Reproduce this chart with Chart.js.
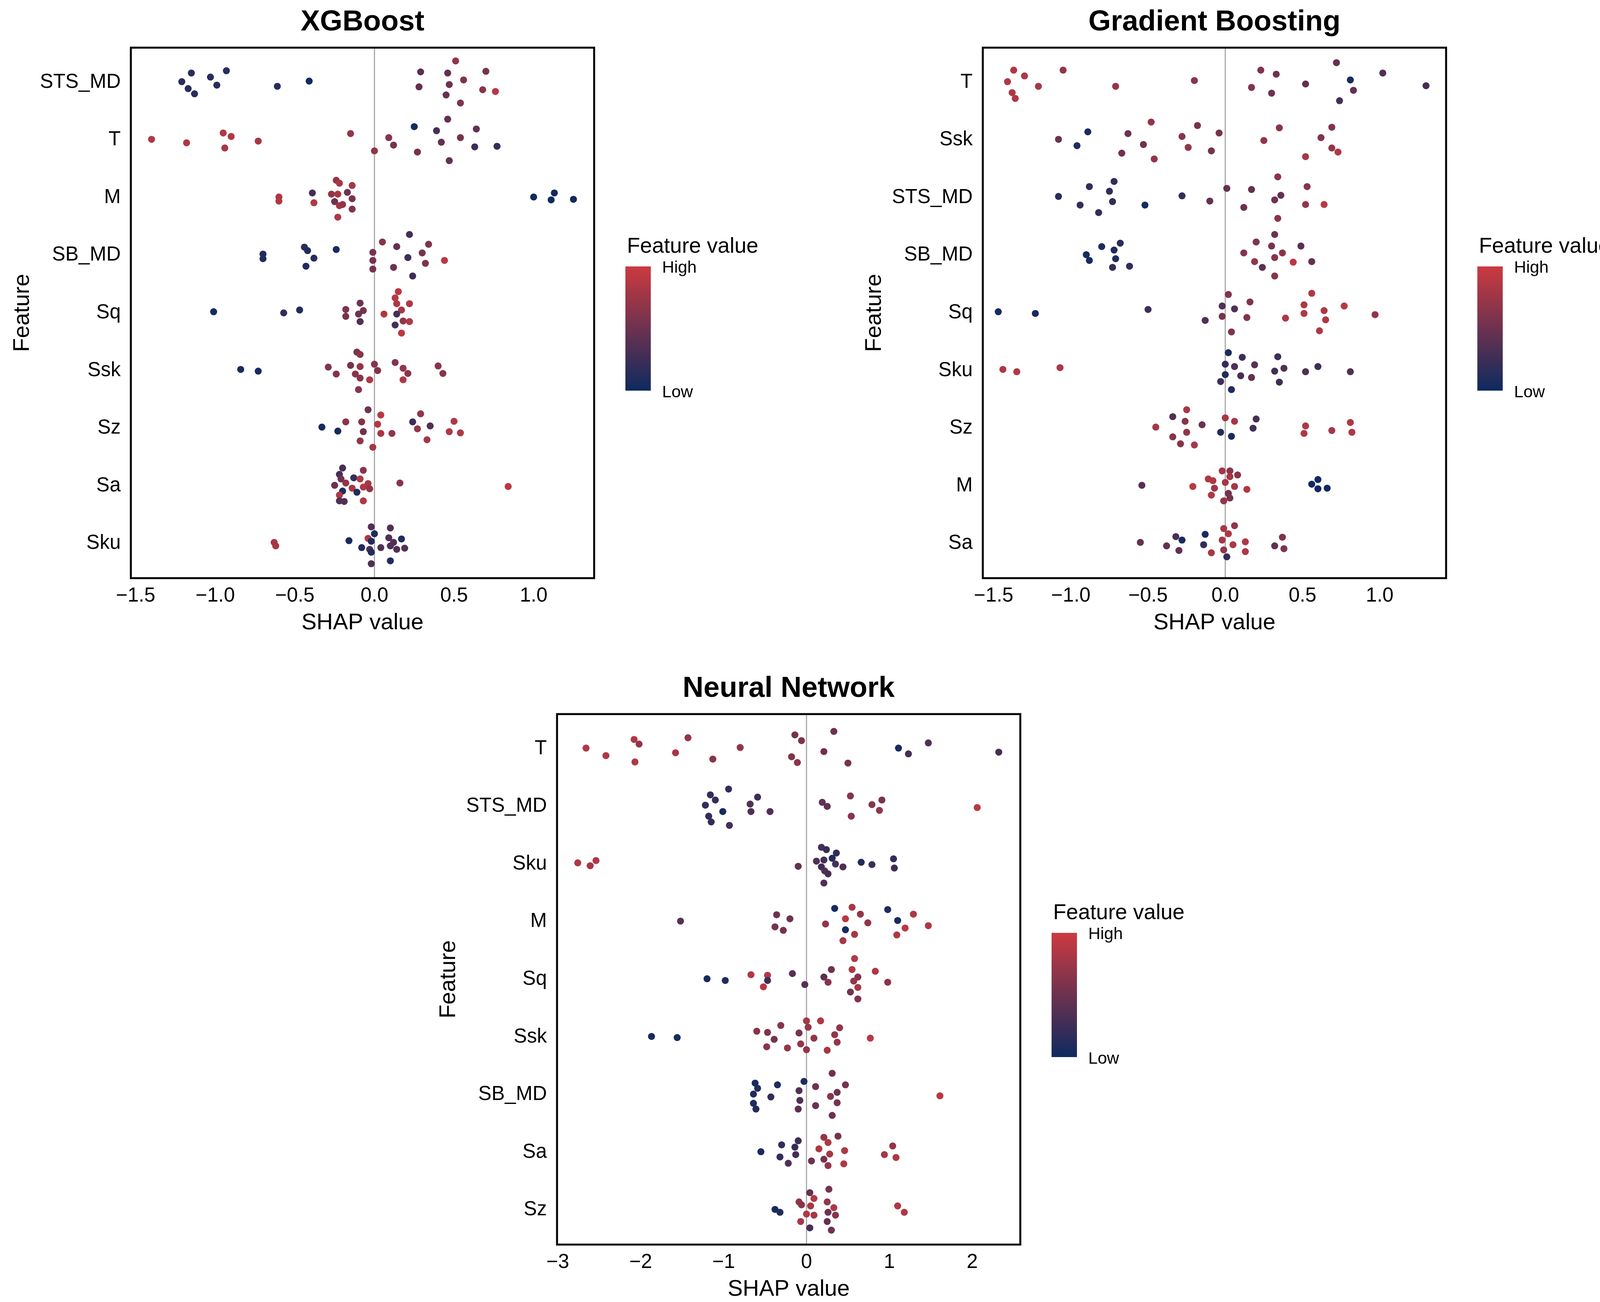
<!DOCTYPE html>
<html>
<head>
<meta charset="utf-8">
<script src="https://cdn.jsdelivr.net/npm/chart.js@4.4.0/dist/chart.umd.min.js"></script>
<style>
  html, body { margin: 0; padding: 0; background: #fff; width: 4141px; height: 3333px; overflow: hidden; }
  .panel { position: absolute; }
</style>
</head>
<body>
<div class="panel" id="wrap1"><canvas id="c1" width="1951" height="1650"></canvas></div>
<div class="panel" id="wrap2"><canvas id="c2" width="1951" height="1650"></canvas></div>
<div class="panel" id="wrap3"><canvas id="c3" width="1951" height="1650"></canvas></div>
<script>
// ---- data (SHAP value, vertical jitter in category units, feature value 0..1) ----
// one row per feature, top to bottom

const XGB_FEATURES = ["STS_MD", "T", "M", "SB_MD", "Sq", "Ssk", "Sz", "Sa", "Sku"];
const XGB_SHAP = [
  [-1.21,-1.15,-1.17,-1.13,-1.03,-0.99,-0.93,-0.61,-0.41,0.51,0.29,0.46,0.70,0.28,0.47,0.56,0.68,0.76,0.45,0.54],
  [-1.40,-1.18,-0.95,-0.90,-0.94,-0.73,-0.15,0.00,0.09,0.12,0.25,0.27,0.39,0.42,0.46,0.54,0.47,0.64,0.63,0.77],
  [-0.60,-0.60,-0.39,-0.38,-0.27,-0.24,-0.22,-0.14,-0.23,-0.17,-0.25,-0.14,-0.22,-0.20,-0.14,-0.23,1.00,1.13,1.11,1.25],
  [-0.70,-0.70,-0.44,-0.42,-0.38,-0.43,-0.24,-0.01,-0.01,-0.01,0.05,0.14,0.22,0.21,0.12,0.24,0.30,0.34,0.32,0.44],
  [-1.01,-0.57,-0.47,-0.18,-0.18,-0.09,-0.07,-0.10,-0.09,0.06,0.15,0.13,0.14,0.22,0.17,0.14,0.18,0.22,0.13,0.17],
  [-0.84,-0.73,-0.29,-0.24,-0.15,-0.11,-0.09,-0.12,-0.09,-0.09,-0.10,-0.03,0.00,0.02,0.13,0.18,0.21,0.18,0.40,0.43],
  [-0.33,-0.23,-0.18,-0.04,-0.08,-0.07,-0.09,-0.01,0.02,0.04,0.04,0.11,0.24,0.29,0.27,0.35,0.33,0.50,0.47,0.54],
  [-0.20,-0.22,-0.21,-0.13,-0.07,-0.09,-0.25,-0.18,-0.14,-0.04,-0.07,-0.03,-0.20,-0.11,-0.22,-0.22,-0.19,-0.07,0.16,0.84],
  [-0.63,-0.62,-0.16,-0.02,0.00,-0.04,-0.02,-0.08,-0.03,-0.02,-0.02,0.04,0.10,0.09,0.17,0.12,0.10,0.14,0.19,0.10]
];
const XGB_JITTER = [
  [0.01,0.16,-0.11,-0.20,0.09,-0.05,0.20,-0.07,0.02,0.37,0.18,0.16,0.19,-0.08,-0.04,0.04,-0.13,-0.16,-0.22,-0.36],
  [0.01,-0.05,0.12,0.06,-0.14,-0.02,0.11,-0.19,0.04,-0.09,0.23,-0.21,0.16,-0.04,0.36,0.04,-0.36,0.19,-0.12,-0.11],
  [0.01,-0.06,0.08,-0.09,0.06,0.30,0.25,0.21,0.06,0.09,-0.07,-0.02,-0.14,-0.12,-0.20,-0.34,0.01,0.08,-0.04,-0.03],
  [0.02,-0.06,0.14,0.08,-0.05,-0.19,0.10,0.05,-0.09,-0.24,0.23,0.15,0.36,-0.04,-0.21,-0.36,0.04,0.19,-0.14,-0.09],
  [0.02,0.00,0.05,0.06,-0.06,0.17,0.04,-0.02,-0.15,-0.02,0.37,0.26,0.16,0.16,0.05,-0.02,-0.14,-0.15,-0.21,-0.35],
  [0.02,-0.01,0.06,-0.06,0.09,0.32,0.28,-0.06,0.07,-0.13,-0.33,-0.16,0.11,0.00,0.14,0.04,-0.05,-0.16,0.08,-0.05],
  [0.02,-0.05,0.11,0.32,0.11,-0.06,-0.22,-0.33,0.07,0.23,-0.09,-0.09,0.11,0.25,-0.01,0.04,-0.20,0.12,-0.06,-0.08],
  [0.31,0.20,0.12,0.14,0.27,0.12,0.01,0.05,-0.04,0.04,-0.02,-0.05,-0.09,-0.11,-0.16,-0.26,-0.27,-0.26,0.05,-0.01],
  [0.02,-0.04,0.05,0.29,0.17,0.09,0.04,-0.07,-0.10,-0.15,-0.35,-0.07,0.27,0.10,0.08,0.02,-0.04,-0.10,-0.08,-0.30]
];
const XGB_FVAL = [
  [0.15,0.15,0.15,0.15,0.15,0.15,0.15,0.15,0.02,0.7,0.4,0.45,0.55,0.45,0.5,0.6,0.65,0.9,0.45,0.6],
  [0.85,0.85,0.85,0.85,0.8,0.8,0.7,0.7,0.65,0.55,0.05,0.55,0.3,0.45,0.45,0.55,0.45,0.45,0.25,0.2],
  [0.85,0.85,0.3,0.85,0.7,0.7,0.8,0.8,0.8,0.5,0.5,0.55,0.8,0.7,0.6,0.85,0.03,0.03,0.03,0.03],
  [0.1,0.1,0.15,0.1,0.15,0.1,0.05,0.55,0.55,0.55,0.65,0.45,0.3,0.25,0.5,0.25,0.55,0.6,0.6,0.9],
  [0.05,0.2,0.1,0.6,0.55,0.5,0.55,0.5,0.35,0.85,0.9,0.9,0.85,0.85,0.8,0.3,0.7,0.85,0.3,0.9],
  [0.05,0.05,0.6,0.6,0.55,0.55,0.65,0.65,0.7,0.65,0.65,0.85,0.65,0.6,0.6,0.7,0.65,0.85,0.65,0.65],
  [0.05,0.05,0.65,0.5,0.6,0.5,0.7,0.8,0.85,0.9,0.8,0.7,0.25,0.7,0.7,0.35,0.8,0.85,0.85,0.85],
  [0.3,0.3,0.5,0.2,0.65,0.85,0.5,0.7,0.8,0.8,0.85,0.7,0.1,0.1,0.85,0.35,0.35,0.85,0.65,0.9],
  [0.8,0.8,0.05,0.35,0.1,0.85,0.1,0.1,0.35,0.1,0.35,0.35,0.35,0.35,0.1,0.35,0.35,0.35,0.35,0.1]
];

const GB_FEATURES = ["T", "Ssk", "STS_MD", "SB_MD", "Sq", "Sku", "Sz", "M", "Sa"];
const GB_SHAP = [
  [-1.37,-1.30,-1.41,-1.38,-1.36,-1.21,-1.05,-0.71,-0.20,0.23,0.33,0.17,0.30,0.52,0.72,0.81,0.83,0.74,1.02,1.30],
  [-1.08,-0.89,-0.96,-0.63,-0.48,-0.53,-0.67,-0.46,-0.28,-0.24,-0.18,-0.09,-0.04,0.25,0.35,0.52,0.62,0.69,0.69,0.73],
  [-1.08,-0.94,-0.88,-0.82,-0.75,-0.72,-0.73,-0.52,-0.28,-0.10,0.01,0.12,0.17,0.32,0.36,0.34,0.34,0.53,0.52,0.64],
  [-0.90,-0.88,-0.80,-0.72,-0.68,-0.71,-0.73,-0.62,0.12,0.20,0.19,0.24,0.30,0.32,0.32,0.37,0.32,0.44,0.49,0.56],
  [-1.47,-1.23,-0.50,-0.13,-0.02,-0.02,0.02,0.06,0.04,0.14,0.16,0.39,0.51,0.51,0.56,0.64,0.65,0.61,0.77,0.97],
  [-1.44,-1.35,-1.07,0.02,0.00,0.00,-0.03,0.04,0.06,0.11,0.10,0.17,0.19,0.32,0.34,0.35,0.38,0.52,0.60,0.81],
  [-0.45,-0.34,-0.26,-0.25,-0.25,-0.34,-0.29,-0.20,-0.15,0.00,0.06,-0.03,0.04,0.20,0.18,0.52,0.51,0.69,0.81,0.82],
  [-0.54,-0.21,-0.11,-0.08,-0.07,-0.09,-0.02,0.03,0.03,0.08,0.00,0.06,0.14,0.02,-0.01,0.03,0.56,0.60,0.60,0.66],
  [-0.55,-0.38,-0.32,-0.28,-0.30,-0.13,-0.14,-0.09,-0.01,0.06,0.02,-0.02,0.05,-0.01,0.01,0.13,0.13,0.32,0.37,0.38]
];
const GB_JITTER = [
  [0.21,0.11,0.01,-0.18,-0.28,-0.07,0.21,-0.07,0.03,0.21,0.14,-0.09,-0.19,-0.03,0.34,0.04,-0.14,-0.32,0.16,-0.06],
  [0.01,0.14,-0.10,0.11,0.31,-0.08,-0.23,-0.33,0.06,-0.13,0.25,-0.19,0.12,-0.01,0.21,-0.29,0.04,0.22,-0.14,-0.21],
  [0.02,-0.13,0.19,-0.26,0.11,0.28,-0.07,-0.13,0.03,-0.06,0.16,-0.17,0.14,-0.04,0.04,0.36,-0.36,0.19,-0.12,-0.12],
  [0.01,-0.09,0.15,0.09,0.21,-0.06,-0.21,-0.19,0.04,0.23,-0.11,-0.21,0.16,0.36,-0.04,0.04,-0.36,-0.12,0.16,-0.11],
  [0.02,-0.01,0.06,-0.13,0.12,-0.06,0.32,0.07,-0.33,-0.08,0.19,-0.09,0.14,-0.01,0.34,0.04,-0.12,-0.31,0.12,-0.03],
  [0.02,-0.02,0.05,0.31,0.11,-0.07,-0.19,-0.33,0.07,0.23,-0.09,-0.12,0.10,-0.01,0.24,-0.20,0.04,-0.02,0.07,-0.02],
  [0.02,0.20,0.12,0.32,-0.07,-0.15,-0.27,-0.29,0.06,0.18,0.12,-0.07,-0.14,0.16,0.00,0.04,-0.09,-0.04,0.10,-0.07],
  [0.01,-0.01,0.12,0.09,-0.04,-0.16,0.26,0.26,0.16,0.19,0.06,-0.01,-0.06,-0.13,-0.26,-0.21,0.03,0.11,-0.05,-0.04],
  [0.02,-0.04,0.12,0.06,-0.12,0.16,-0.02,-0.16,0.26,0.31,0.17,0.06,-0.02,-0.11,-0.23,0.03,-0.14,-0.04,0.11,-0.09]
];
const GB_FVAL = [
  [0.85,0.85,0.85,0.85,0.85,0.8,0.7,0.7,0.65,0.6,0.5,0.6,0.5,0.45,0.45,0.05,0.45,0.3,0.35,0.3],
  [0.5,0.05,0.1,0.5,0.7,0.5,0.5,0.7,0.65,0.7,0.55,0.55,0.55,0.7,0.65,0.8,0.6,0.6,0.7,0.85],
  [0.15,0.2,0.2,0.2,0.2,0.2,0.2,0.05,0.2,0.45,0.45,0.5,0.45,0.5,0.45,0.65,0.65,0.65,0.7,0.9],
  [0.05,0.05,0.1,0.1,0.15,0.1,0.2,0.2,0.65,0.6,0.7,0.4,0.55,0.5,0.65,0.65,0.65,0.9,0.4,0.45],
  [0.05,0.05,0.25,0.35,0.35,0.55,0.6,0.35,0.6,0.6,0.6,0.85,0.85,0.85,0.85,0.85,0.85,0.85,0.9,0.7],
  [0.85,0.85,0.85,0.05,0.2,0.1,0.25,0.1,0.35,0.25,0.3,0.45,0.4,0.3,0.25,0.25,0.35,0.35,0.25,0.35],
  [0.8,0.35,0.65,0.8,0.7,0.65,0.65,0.8,0.5,0.8,0.8,0.1,0.05,0.3,0.3,0.85,0.85,0.8,0.85,0.85],
  [0.4,0.9,0.85,0.85,0.75,0.85,0.8,0.65,0.8,0.65,0.8,0.8,0.85,0.5,0.7,0.55,0.03,0.03,0.03,0.03],
  [0.45,0.45,0.3,0.05,0.45,0.05,0.2,0.8,0.8,0.7,0.85,0.8,0.85,0.7,0.2,0.85,0.85,0.45,0.6,0.6]
];

const NN_FEATURES = ["T", "STS_MD", "Sku", "M", "Sq", "Ssk", "SB_MD", "Sa", "Sz"];
const NN_SHAP = [
  [-2.66,-2.42,-2.08,-2.02,-2.07,-1.43,-1.58,-1.13,-0.80,-0.14,-0.06,-0.18,-0.11,0.33,0.21,0.50,1.11,1.23,1.47,2.32],
  [-1.22,-1.16,-1.10,-1.18,-1.15,-1.01,-0.94,-0.93,-0.68,-0.67,-0.59,-0.44,0.19,0.25,0.53,0.54,0.79,0.91,0.88,2.06],
  [-2.76,-2.54,-2.61,-0.10,0.12,0.18,0.24,0.21,0.18,0.22,0.26,0.21,0.31,0.36,0.35,0.44,0.66,0.79,1.05,1.06],
  [-1.52,-0.36,-0.20,-0.38,-0.28,0.23,0.34,0.55,0.47,0.65,0.47,0.58,0.44,0.74,0.98,1.10,1.29,1.19,1.09,1.47],
  [-1.20,-0.98,-0.67,-0.47,-0.47,-0.52,-0.17,-0.02,0.21,0.30,0.26,0.58,0.55,0.62,0.57,0.83,0.62,0.53,0.62,0.98],
  [-1.87,-1.56,-0.60,-0.47,-0.31,-0.39,-0.48,-0.23,-0.09,-0.07,0.00,0.02,0.00,0.09,0.17,0.25,0.40,0.34,0.37,0.77],
  [-0.62,-0.59,-0.64,-0.64,-0.61,-0.35,-0.43,-0.03,-0.09,-0.08,-0.10,0.11,0.11,0.31,0.29,0.37,0.37,0.31,0.47,1.61],
  [-0.55,-0.30,-0.10,-0.14,-0.32,-0.13,-0.22,0.06,0.15,0.21,0.26,0.38,0.28,0.21,0.26,0.46,0.45,1.04,0.94,1.08],
  [-0.38,-0.32,-0.09,-0.06,-0.07,0.00,0.04,0.05,0.04,0.09,0.09,0.27,0.25,0.33,0.26,0.35,0.25,0.30,1.10,1.18]
];
const NN_JITTER = [
  [0.01,-0.12,0.16,0.08,-0.23,0.19,-0.07,-0.18,0.02,0.24,0.14,-0.14,-0.24,0.30,-0.05,-0.25,0.01,-0.09,0.10,-0.06],
  [0.02,0.20,0.11,-0.17,-0.27,-0.09,0.30,-0.33,0.04,-0.09,0.16,-0.09,0.07,0.00,0.18,-0.17,0.03,0.11,-0.07,-0.02],
  [0.02,0.06,-0.03,-0.04,0.05,0.29,0.25,0.07,-0.05,-0.12,-0.17,-0.33,0.10,0.19,0.00,-0.05,0.03,-0.01,0.09,-0.07],
  [0.01,0.12,0.05,-0.09,-0.15,-0.04,0.23,0.25,0.05,0.13,-0.14,-0.22,-0.33,-0.02,0.21,0.02,0.13,-0.11,-0.23,-0.07],
  [0.01,-0.02,0.08,0.07,-0.02,-0.13,0.10,-0.09,0.04,0.17,-0.05,0.36,0.17,0.04,-0.03,0.14,-0.14,-0.22,-0.34,-0.05],
  [0.01,-0.01,0.10,0.08,0.20,-0.04,-0.17,-0.19,0.07,-0.12,0.28,0.17,-0.22,-0.02,0.28,-0.23,0.16,0.04,-0.09,-0.02],
  [0.20,0.11,0.01,-0.15,-0.25,0.17,-0.04,0.23,0.07,-0.10,-0.25,0.14,-0.19,0.37,-0.03,0.04,-0.14,-0.36,0.17,-0.02],
  [0.01,0.13,0.20,0.09,-0.08,-0.04,-0.19,-0.15,0.06,0.26,0.17,0.28,-0.03,-0.12,-0.23,0.03,-0.20,0.11,-0.04,-0.09],
  [0.01,-0.04,0.14,0.09,-0.20,-0.07,0.30,0.07,-0.31,0.20,-0.09,0.36,0.14,0.04,-0.04,-0.09,-0.20,-0.35,0.07,-0.04]
];
const NN_FVAL = [
  [0.85,0.85,0.85,0.7,0.85,0.7,0.8,0.65,0.7,0.55,0.6,0.6,0.65,0.5,0.5,0.55,0.05,0.3,0.35,0.3],
  [0.2,0.2,0.2,0.2,0.2,0.05,0.2,0.3,0.35,0.35,0.25,0.35,0.45,0.45,0.65,0.65,0.65,0.55,0.7,0.9],
  [0.85,0.85,0.8,0.45,0.35,0.3,0.2,0.3,0.25,0.35,0.3,0.35,0.1,0.2,0.3,0.35,0.1,0.25,0.2,0.25],
  [0.4,0.5,0.5,0.55,0.55,0.7,0.05,0.8,0.9,0.7,0.05,0.8,0.8,0.7,0.1,0.05,0.85,0.9,0.85,0.85],
  [0.05,0.1,0.85,0.85,0.25,0.9,0.4,0.4,0.4,0.5,0.65,0.85,0.85,0.6,0.7,0.85,0.8,0.55,0.6,0.65],
  [0.05,0.05,0.65,0.6,0.65,0.55,0.65,0.7,0.55,0.7,0.8,0.7,0.7,0.7,0.85,0.8,0.7,0.7,0.7,0.9],
  [0.05,0.1,0.1,0.1,0.1,0.1,0.2,0.1,0.35,0.35,0.4,0.5,0.5,0.5,0.65,0.5,0.55,0.5,0.55,0.9],
  [0.05,0.2,0.25,0.2,0.2,0.3,0.35,0.5,0.85,0.7,0.85,0.55,0.8,0.55,0.7,0.85,0.85,0.7,0.8,0.85],
  [0.05,0.1,0.7,0.65,0.8,0.85,0.45,0.8,0.3,0.85,0.8,0.55,0.7,0.85,0.5,0.65,0.45,0.5,0.85,0.85]
];

// x axis ticks
const TICKS_TREE = [-1.5, -1.0, -0.5, 0.0, 0.5, 1.0];
const TICKS_NN   = [-3, -2, -1, 0, 1, 2];

// ---- look ----
const FONT = '"Liberation Sans", Arial, Helvetica, sans-serif';
const LOW  = [13, 42, 95];
const HIGH = [204, 58, 64];

// layout of each canvas around its plot box
const Y_AXIS_W = 325, PAD_L = 10, PAD_T = 122, X_AXIS_H = 170, PAD_R = 430;

function colorFor(v){
    const c = LOW.map((lo, i) => Math.round(lo + (HIGH[i] - lo) * v));
    return "rgb(" + c.join(",") + ")";
}

function minusFmt(v, digits){
    const s = Math.abs(v).toFixed(digits);
    return (v < 0 ? "\u2212" : "") + s;
}

function buildPoints(shap, jit, fval){
    const pts = [];
    for (let i = 0; i < shap.length; i++){
        for (let j = 0; j < shap[i].length; j++){
            pts.push({ x: shap[i][j], y: i + 1 - jit[i][j], v: fval[i][j] });
        }
    }
    return pts;
}

// box, zero line, panel title and colour bar legend
const panelDecor = {
    id: "panelDecor",
    beforeDatasetsDraw(chart){
        const { ctx, chartArea: a } = chart;
        const x0 = chart.scales.x.getPixelForValue(0);
        ctx.save();
        ctx.strokeStyle = "#a9a9a9";
        ctx.lineWidth = 3;
        ctx.beginPath();
        ctx.moveTo(x0, a.top);
        ctx.lineTo(x0, a.bottom);
        ctx.stroke();
        ctx.restore();
    },
    afterDatasetsDraw(chart, args, opts){
        const { ctx, chartArea: a } = chart;
        ctx.save();
        ctx.strokeStyle = "#000";
        ctx.lineWidth = 5;
        ctx.strokeRect(a.left, a.top, a.right - a.left, a.bottom - a.top);

        // title
        ctx.fillStyle = "#000";
        ctx.font = "bold 74px " + FONT;
        ctx.textAlign = "center";
        ctx.textBaseline = "alphabetic";
        ctx.fillText(opts.title, (a.left + a.right) / 2, a.top - 44);

        // legend
        const bx = a.right + 80, by = a.top + 560, bw = 65, bh = 318;
        const g = ctx.createLinearGradient(0, by, 0, by + bh);
        g.addColorStop(0, colorFor(1));
        g.addColorStop(1, colorFor(0));
        ctx.fillStyle = g;
        ctx.fillRect(bx, by, bw, bh);

        ctx.fillStyle = "#000";
        ctx.textAlign = "left";
        ctx.font = "55px " + FONT;
        ctx.fillText("Feature value", a.right + 84, a.top + 525);
        ctx.font = "43px " + FONT;
        ctx.fillText("High", a.right + 174, a.top + 576);
        ctx.fillText("Low", a.right + 174, a.top + 895);
        ctx.restore();
    }
};

function makePanel(canvasId, wrapId, boxLeft, boxTop, title, features, shap, jit, fval, ticks, xmin, xmax, digits){
    const wrap = document.getElementById(wrapId);
    wrap.style.left = (boxLeft - Y_AXIS_W - PAD_L) + "px";
    wrap.style.top  = (boxTop - PAD_T) + "px";

    const ctx = document.getElementById(canvasId).getContext("2d");
    return new Chart(ctx, {
        type: "scatter",
        data: {
            datasets: [{
                data: buildPoints(shap, jit, fval),
                pointRadius: 9,
                pointHoverRadius: 9,
                borderWidth: 0,
                backgroundColor: c => colorFor(c.raw ? c.raw.v : 0.5),
            }]
        },
        options: {
            responsive: false,
            animation: false,
            devicePixelRatio: 1,
            layout: { padding: { left: PAD_L, top: PAD_T, right: PAD_R, bottom: 0 } },
            plugins: {
                legend: { display: false },
                tooltip: { enabled: false },
                panelDecor: { title: title }
            },
            scales: {
                x: {
                    type: "linear",
                    min: xmin,
                    max: xmax,
                    grid: { display: false, drawTicks: false },
                    border: { display: false },
                    afterBuildTicks: s => { s.ticks = ticks.map(v => ({ value: v })); },
                    afterFit: s => { s.height = X_AXIS_H; },
                    ticks: {
                        font: { family: FONT, size: 51 },
                        color: "#000",
                        padding: 15,
                        maxRotation: 0,
                        autoSkip: false,
                        callback: v => minusFmt(v, digits)
                    },
                    title: {
                        display: true,
                        text: "SHAP value",
                        color: "#000",
                        font: { family: FONT, size: 58 },
                        padding: { top: 0, bottom: 20 }
                    }
                },
                y: {
                    type: "linear",
                    min: 0.4,
                    max: 9.6,
                    reverse: true,
                    grid: { display: false, drawTicks: false },
                    border: { display: false },
                    afterBuildTicks: s => { s.ticks = features.map((f, i) => ({ value: i + 1 })); },
                    afterFit: s => { s.width = Y_AXIS_W; },
                    ticks: {
                        font: { family: FONT, size: 51 },
                        color: "#000",
                        padding: 26,
                        autoSkip: false,
                        callback: v => features[Math.round(v) - 1]
                    },
                    title: {
                        display: true,
                        text: "Feature",
                        color: "#000",
                        font: { family: FONT, size: 58 },
                        padding: { top: 13, bottom: 0 }
                    }
                }
            }
        },
        plugins: [panelDecor]
    });
}

window.addEventListener("load", function(){
    makePanel("c1", "wrap1", 335, 122, "XGBoost", XGB_FEATURES, XGB_SHAP, XGB_JITTER, XGB_FVAL, TICKS_TREE, -1.53, 1.38, 1);
    makePanel("c2", "wrap2", 2516, 122, "Gradient Boosting", GB_FEATURES, GB_SHAP, GB_JITTER, GB_FVAL, TICKS_TREE, -1.57, 1.43, 1);
    makePanel("c3", "wrap3", 1426, 1828, "Neural Network", NN_FEATURES, NN_SHAP, NN_JITTER, NN_FVAL, TICKS_NN, -3.01, 2.58, 0);
});
</script>
</body>
</html>
